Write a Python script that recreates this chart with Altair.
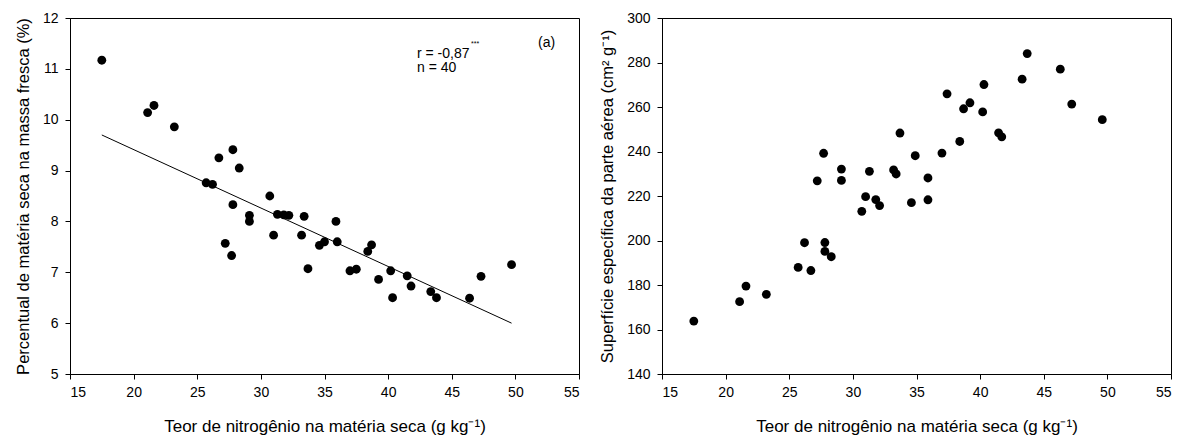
import altair as alt
import pandas as pd

# Nitrogen content (g/kg) for panel (a)
n_a = [17.5, 21.1, 21.6, 23.2, 25.7, 26.2, 26.7, 27.2, 27.7, 27.8, 27.8, 28.3, 29.1, 29.1,
       30.7, 31.0, 31.3, 31.8, 32.2, 33.2, 33.4, 33.7, 34.6, 35.0, 35.9, 36.0, 37.0, 37.5,
       38.4, 38.7, 39.25, 40.2, 40.35, 41.5, 41.8, 43.35, 43.8, 46.4, 47.3, 49.7]
# Percent dry matter
dm_a = [11.17, 10.14, 10.28, 9.86, 8.76, 8.73, 9.25, 7.57, 7.33, 8.33, 9.41, 9.05, 8.12, 8.00,
        8.50, 7.73, 8.14, 8.13, 8.12, 7.73, 8.10, 7.07, 7.53, 7.60, 8.00, 7.60, 7.03, 7.06,
        7.41, 7.54, 6.86, 7.03, 6.50, 6.93, 6.73, 6.62, 6.50, 6.49, 6.92, 7.15]

# Nitrogen content for right panel
n_b = [17.5, 21.1, 21.6, 23.2, 25.7, 26.2, 26.7, 27.2, 27.7, 27.8, 27.8, 28.3, 29.1, 29.1,
       30.7, 31.0, 31.3, 31.8, 32.1, 33.2, 33.4, 33.7, 34.6, 34.9, 35.9, 35.9, 37.0, 37.4,
       38.4, 38.7, 39.2, 40.2, 40.3, 41.45, 41.7, 43.3, 43.7, 46.3, 47.2, 49.6]
# Specific leaf area (cm2/g)
sla_b = [163.8, 172.5, 179.5, 175.8, 187.9, 199.0, 186.5, 226.8, 239.2, 199.1, 195.1, 192.7,
         232.1, 227.0, 213.1, 219.7, 231.1, 218.4, 215.7, 231.7, 229.9, 248.3, 217.0, 238.1,
         228.1, 218.3, 239.3, 265.9, 244.5, 259.2, 261.9, 257.8, 270.1, 248.4, 246.6, 272.5,
         284.0, 277.0, 261.3, 254.3]

# Fitted line endpoints (panel a)
line_x = [17.5, 49.7]
line_y = [9.70, 6.00]

x_ticks = [15, 20, 25, 30, 35, 40, 45, 50, 55]
ya_ticks = [5, 6, 7, 8, 9, 10, 11, 12]
yb_ticks = [140, 160, 180, 200, 220, 240, 260, 280, 300]

FONT = "Liberation Sans"
W, H = 509, 356

df_a = pd.DataFrame({"n": n_a, "v": dm_a})
df_b = pd.DataFrame({"n": n_b, "v": sla_b})
df_l = pd.DataFrame({"n": line_x, "v": line_y})

x_title = "Teor de nitrogênio na matéria seca (g kg⁻¹)"

def xenc():
    return alt.X("n:Q", scale=alt.Scale(domain=[15, 55], nice=False),
                 axis=alt.Axis(values=x_ticks, title=x_title, grid=False, tickSize=5,
                               labelPadding=6, titlePadding=19, titleFontSize=17))

pts_a = alt.Chart(df_a).mark_circle(size=78, color="black", opacity=1).encode(
    x=xenc(),
    y=alt.Y("v:Q", scale=alt.Scale(domain=[5, 12], nice=False),
            axis=alt.Axis(values=ya_ticks, title="Percentual de matéria seca na massa fresca (%)",
                          grid=False, tickSize=5, labelPadding=7, titlePadding=11)),
)
line_a = alt.Chart(df_l).mark_line(color="black", strokeWidth=1).encode(x="n:Q", y="v:Q")

def label(t, x, y, size=14):
    return alt.Chart(pd.DataFrame({"t": [t]})).mark_text(
        align="left", baseline="alphabetic", fontSize=size, font=FONT, color="black").encode(
        x=alt.value(x), y=alt.value(y), text="t:N")

left = alt.layer(
    pts_a, line_a,
    label("r = -0,87", 347, 39.5),
    label("***", 401, 28, 7),
    label("n = 40", 347, 54),
    label("(a)", 468, 29),
).properties(width=W, height=H)

pts_b = alt.Chart(df_b).mark_circle(size=78, color="black", opacity=1).encode(
    x=xenc(),
    y=alt.Y("v:Q", scale=alt.Scale(domain=[140, 300], nice=False),
            axis=alt.Axis(values=yb_ticks, title="Superfície específica da parte aérea (cm² g⁻¹)",
                          grid=False, tickSize=5, labelPadding=7, titlePadding=11)),
)
right = pts_b.properties(width=W, height=H)

chart = alt.hconcat(left, right, spacing=19).properties(
    padding={"left": 14, "top": 10, "right": 2, "bottom": 2},
    background="white",
).configure_view(stroke="black", strokeWidth=1).configure_axis(
    domainColor="black", tickColor="black", labelColor="black", titleColor="black",
    labelFont=FONT, titleFont=FONT, labelFontSize=14, titleFontSize=16.5,
    titleFontWeight="normal", domainWidth=1,
)

chart.save("out.html", embed_options={"renderer": "svg", "actions": False})
